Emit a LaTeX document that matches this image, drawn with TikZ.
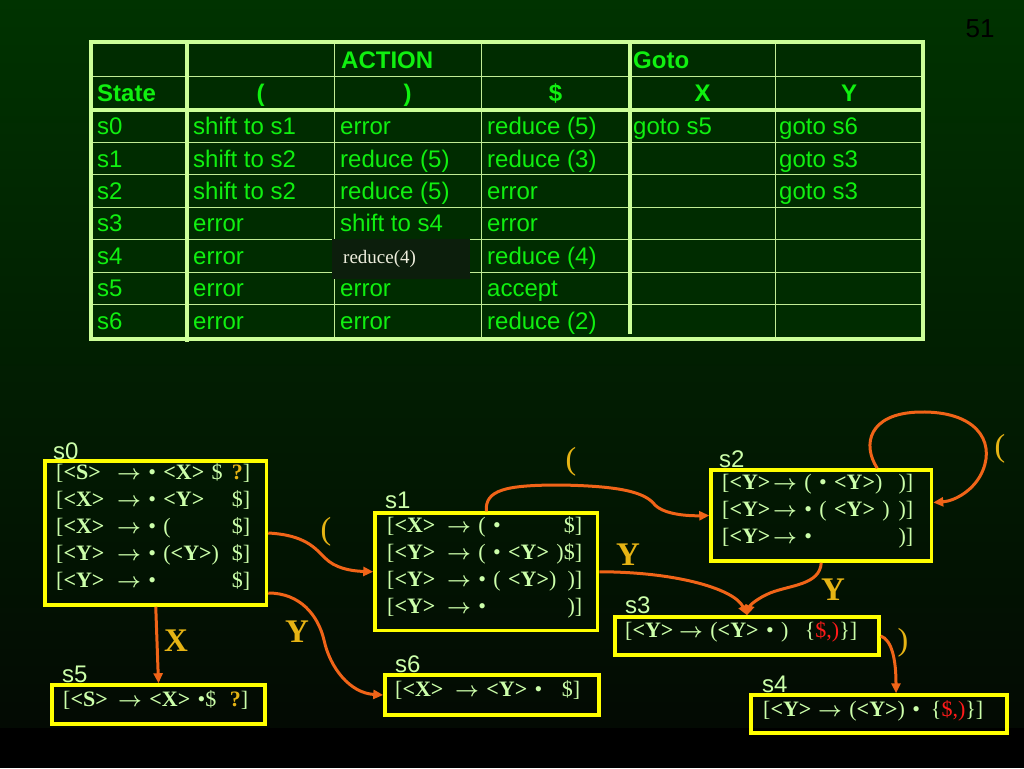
\documentclass[tikz,border=0pt]{standalone}
\usepackage{fontspec}
\setmainfont{Liberation Serif}
\setsansfont{Liberation Sans}
\usetikzlibrary{arrows.meta,calc}
\definecolor{bgtop}{HTML}{003300}
\definecolor{bgbot}{HTML}{030A03}
\definecolor{grid}{HTML}{CCFF99}
\definecolor{tgreen}{HTML}{10F010}
\definecolor{cellbg}{HTML}{002C00}
\definecolor{itemc}{HTML}{CCFFAA}
\definecolor{boxy}{HTML}{FFFF00}
\definecolor{edgeo}{HTML}{F06418}
\definecolor{lblc}{HTML}{E6B414}
\definecolor{redc}{HTML}{FF1A1A}
\definecolor{patchbg}{HTML}{0C1E0C}
\definecolor{patchtxt}{HTML}{EEEEDD}
\newcommand\nt[1]{\textbf{<#1>}}
\newcommand\lk[1]{\textcolor{lblc}{\textbf{#1}}}
\newcommand\rd[1]{\textcolor{redc}{#1}}
\newcommand\lh[2]{\makebox[#1][l]{[\nt{#2}}}
\newcommand\ar{\mbox{\boldmath$\rightarrow$}}
\begin{document}
\begin{tikzpicture}[x=1pt,y=-1pt,
  cell/.style={anchor=base west, inner sep=0, font=\sffamily\fontsize{24}{28}\selectfont, text=tgreen},
  hcell/.style={cell, font=\sffamily\bfseries\fontsize{24}{28}\selectfont},
  hcc/.style={hcell, anchor=base},
  thinl/.style={draw=grid!85!gray, line width=1pt},
  thickl/.style={draw=grid, line width=4pt},
  box/.style={draw=boxy, line width=3.5pt, inner sep=0},
  items/.style={anchor=north west, inner sep=0, align=left, text=itemc, font=\fontsize{22}{27}\selectfont},
  slbl/.style={anchor=base west, inner sep=0, text=itemc, font=\sffamily\fontsize{24}{24}\selectfont},
  elbl/.style={text=lblc, inner sep=0, font=\bfseries\fontsize{33}{33}\selectfont},
  plbl/.style={text=lblc, inner sep=0, font=\fontsize{32}{32}\selectfont},
  edge/.style={draw=edgeo, line width=3pt, -{Triangle[length=10pt,width=9pt]}},
]
\useasboundingbox (0,0) rectangle (1024,768);
% background
\shade[top color=bgtop, bottom color=bgbot] (0,0) rectangle (1024,728);
\fill[black] (0,728) rectangle (1024,768);
\node[inner sep=0, text=black, font=\sffamily\fontsize{26}{26}\selectfont] (pg) at (980,29) {51};

% ---------- table ----------
\fill[cellbg] (91,42) rectangle (923,339);
\foreach \yy in {76,142.4,174.8,207.2,239.6,272,304.4}
  \draw[thinl] (91,\yy) -- (923,\yy);
\foreach \xx in {334,481,775}
  \draw[thinl] (\xx,42) -- (\xx,339);
\draw[thickl] (91,110) -- (923,110);
\draw[thickl] (187,42) -- (187,342);
\draw[thickl] (630,42) -- (630,334);
\draw[thickl] (91,42) rectangle (923,339);

\node[hcell] (hact) at (341,68) {ACTION};
\node[hcell] (hgoto) at (633,68) {Goto};
\node[hcell] (hstate) at (97,101.5) {State};
\node[hcc] (hlp) at (260.5,101.5) {(};
\node[hcc] (hrp) at (407.5,101.5) {)};
\node[hcc] (hdol) at (555.5,101.5) {\$};
\node[hcc] (hx) at (702.5,101.5) {X};
\node[hcc] (hy) at (849,101.5) {Y};

\foreach \t [count=\i] in {s0,s1,s2,s3,s4,s5,s6}
  \node[cell] (st\i) at (97,{134.6+(\i-1)*32.4}) {\t};
\foreach \t [count=\i] in {shift to s1,shift to s2,shift to s2,error,error,error,error}
  \node[cell] (lp\i) at (193,{134.6+(\i-1)*32.4}) {\t};
\foreach \i/\t in {1/error,2/reduce (5),3/reduce (5),4/shift to s4,6/error,7/error}
  \node[cell] (rp\i) at (340,{134.6+(\i-1)*32.4}) {\t};
\foreach \t [count=\i] in {reduce (5),reduce (3),error,error,reduce (4),accept,reduce (2)}
  \node[cell] (dl\i) at (487,{134.6+(\i-1)*32.4}) {\t};
\node[cell] (gx1) at (633,134.6) {goto s5};
\foreach \i/\t in {1/goto s6,2/goto s3,3/goto s3}
  \node[cell] (gy\i) at (779,{134.6+(\i-1)*32.4}) {\t};
\node[fill=patchbg, anchor=west, minimum height=40pt, inner xsep=11pt, inner ysep=0pt,
      text width=116pt, align=left, text=patchtxt, font=\fontsize{19}{22}\selectfont]
      (r4) at (332,259) {reduce(4)};

% ---------- state boxes ----------
\node[box, minimum width=221.5pt, minimum height=144pt] (s0) at (155.75,533) {};
\node[box, minimum width=222.5pt, minimum height=117.5pt] (s1) at (486.25,571.75) {};
\node[box, minimum width=220.5pt, minimum height=91pt] (s2) at (821.25,515.5) {};
\node[box, minimum width=264pt, minimum height=38pt] (s3) at (747,636) {};
\node[box, minimum width=256pt, minimum height=38pt] (s4) at (879,714) {};
\node[box, minimum width=213pt, minimum height=39pt] (s5) at (158.5,704.5) {};
\node[box, minimum width=214pt, minimum height=40pt] (s6) at (492,695) {};

\node[slbl] (l0) at (53,459) {s0};
\node[slbl] (l1) at (385,508) {s1};
\node[slbl] (l2) at (719,467) {s2};
\node[slbl] (l3) at (625,613) {s3};
\node[slbl] (l4) at (762,692) {s4};
\node[slbl] (l5) at (62,682) {s5};
\node[slbl] (l6) at (395,672) {s6};

\node[items, text width=194pt] (t0) at (56,463) {%
\lh{61pt}{S}\ar{} • \nt{X} \$\hfill\lk{?}]\\
\lh{61pt}{X}\ar{} • \nt{Y}\hfill\$]\\
\lh{61pt}{X}\ar{} • (\hfill\$]\\
\lh{61pt}{Y}\ar{} • (\nt{Y})\hfill\$]\\
\lh{61pt}{Y}\ar{} •\hfill\$]};
\node[items, text width=195pt] (t1) at (387,516) {%
\lh{60pt}{X}\ar{} ( •\hfill\$]\\
\lh{60pt}{Y}\ar{} ( • \nt{Y} )\hfill\$]\\
\lh{60pt}{Y}\ar{} • ( \nt{Y})\hfill)]\\
\lh{60pt}{Y}\ar{} •\hfill)]};
\node[items, text width=191pt] (t2) at (722,474) {%
\lh{51pt}{Y}\ar{} ( • \nt{Y})\hfill)]\\
\lh{51pt}{Y}\ar{} • ( \nt{Y} )\hfill)]\\
\lh{51pt}{Y}\ar{} •\hfill)]};
\node[items, text width=232pt] (t3) at (625,621) {%
\lh{54pt}{Y}\ar{} (\nt{Y} • )\hfill\{\rd{\$,)}\}]};
\node[items, text width=220pt] (t4) at (763,700) {%
\lh{55pt}{Y}\ar{} (\nt{Y}) •\hfill\{\rd{\$,)}\}]};
\node[items, text width=185pt] (t5) at (63,690) {%
\lh{55pt}{S}\ar{} \nt{X} •\$\hfill\lk{?}]};
\node[items, text width=185pt] (t6) at (395,680) {%
\lh{60pt}{X}\ar{} \nt{Y} •\hfill\$]};

% ---------- transitions ----------
\draw[edge] (s0.east) .. controls (305,535) and (315,548) .. (325,558)
  .. controls (335,568) and (350,571) .. (s1.west);
\draw[edge] (s0.south) -- (s5.north);
\draw[edge] ($(s0.east)+(0,60)$) .. controls (300,593) and (318,615) .. (324,640)
  .. controls (330,668) and (350,693) .. (s6.west);
\draw[edge] (s1.north) .. controls (485,490) and (505,485) .. (560,485)
  .. controls (620,486) and (645,492) .. (655,505)
  .. controls (665,515) and (690,516) .. (s2.west);
\draw[edge] (s1.east) .. controls (680,572) and (735,590) .. (s3.north);
\draw[edge] (s2.south) .. controls (820,585) and (790,585) .. (770,593)
  .. controls (758,598) and (750,605) .. (s3.north);
\draw[edge] ($(s2.north)+(56,0)$) .. controls (862,445) and (868,413) .. (920,412)
  .. controls (975,411) and (995,440) .. (983,470)
  .. controls (975,490) and (955,501) .. ($(s2.east)+(0,-13)$);
\draw[edge] (s3.east) .. controls (892,640) and (896,660) .. ($(s4.north)+(17,0)$);

\node[plbl] (e1) at (326,532) {(};
\node[elbl] (e2) at (176,641) {X};
\node[elbl] (e3) at (297,632) {Y};
\node[plbl] (e4) at (571,462) {(};
\node[elbl] (e5) at (628,555) {Y};
\node[elbl] (e6) at (833,590) {Y};
\node[plbl] (e7) at (1000,449) {(};
\node[plbl] (e8) at (903,643) {)};
\end{tikzpicture}
\end{document}
